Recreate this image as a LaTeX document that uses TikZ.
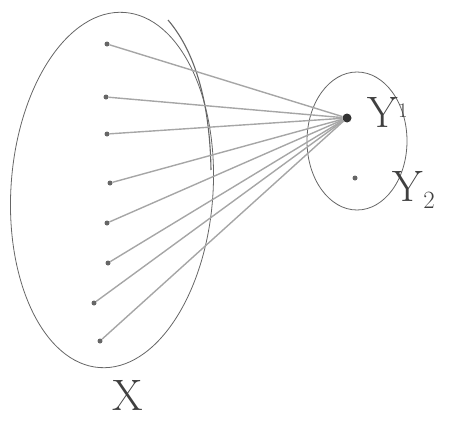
\documentclass[tikz,border=0pt]{standalone}
\usepackage{tikz}
\begin{document}
\begin{tikzpicture}[x=1pt,y=-1pt,
  pencil/.style={draw=black!60,line width=0.8pt},
  ray/.style={draw=black!35,line width=1.4pt},
  dotpt/.style={circle,fill=black!60,inner sep=0pt,minimum size=5pt},
  bigdot/.style={circle,fill=black!80,inner sep=0pt,minimum size=9pt},
  lbl/.style={text=black!75,font=\fontsize{44}{44}\selectfont}]
\useasboundingbox (0,0) rectangle (462,423);
% set X
\draw[pencil,rotate around={-4:(112,190)}] (112,190) ellipse [x radius=101, y radius=178];
\draw[pencil,line width=1.1pt] (168,20) .. controls (198,55) and (210,110) .. (211,170);
% set Y
\draw[pencil] (357,141) ellipse [x radius=50, y radius=69];
% points
\node[dotpt] (x1) at (107,44) {};
\node[dotpt] (x2) at (106,97) {};
\node[dotpt] (x3) at (107,134) {};
\node[dotpt] (x4) at (110,183) {};
\node[dotpt] (x5) at (107,223) {};
\node[dotpt] (x6) at (108,263) {};
\node[dotpt] (x7) at (94,303) {};
\node[dotpt] (x8) at (100,341) {};
\node[bigdot] (y1) at (347,118) {};
\node[dotpt] (y2) at (355,178) {};
% rays
\foreach \i in {1,...,8} \draw[ray] (x\i) -- (y1);
% labels
\node[lbl] (ly1) at (388,112) {Y$^{\scriptscriptstyle 1}$};
\node[lbl] (ly2) at (414,190) {Y$_{\scriptstyle 2}$};
\node[lbl] (lx) at (128,395) {X};
\end{tikzpicture}
\end{document}
